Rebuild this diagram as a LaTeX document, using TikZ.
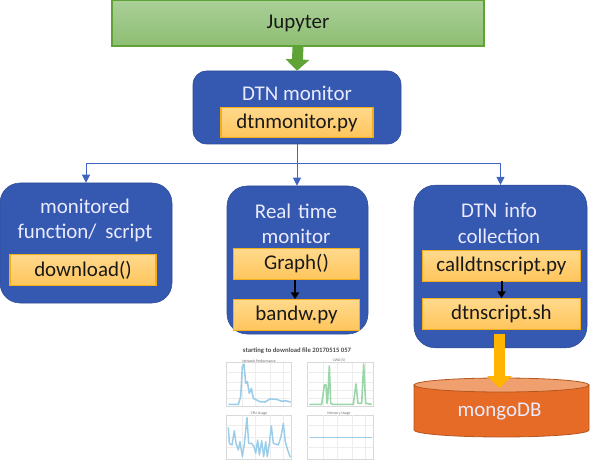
\documentclass[tikz,border=0pt]{standalone}
\usepackage{fontspec}
\setmainfont{Carlito}
\usetikzlibrary{arrows.meta}
\definecolor{blueb}{HTML}{3558B0}
\definecolor{blueline}{HTML}{3F65C0}
\definecolor{orgtop}{HTML}{FFD98C}
\definecolor{orgbot}{HTML}{FFC55C}
\definecolor{orgline}{HTML}{F5AE1A}
\definecolor{grtop}{HTML}{AACF98}
\definecolor{grbot}{HTML}{8DBE72}
\definecolor{grline}{HTML}{5FA336}
\definecolor{dbbody}{HTML}{E56B26}
\definecolor{dbtop}{HTML}{F0A06E}
\definecolor{dbline}{HTML}{B5561F}
\definecolor{plotb}{HTML}{9CCDE8}
\definecolor{plotg}{HTML}{9AD6A9}
\definecolor{arrowor}{HTML}{FFB400}
\tikzset{
  x=.75pt,y=-.75pt,
  panel/.style={draw=blueb!85!black,line width=.4pt,fill=blueb,inner sep=0pt},
  title/.style={text=white!92!blue,font=\fontsize{15.7}{19}\selectfont,align=center,inner sep=0pt},
  code/.style={draw=orgline,line width=.8pt,top color=orgtop,bottom color=orgbot,inner sep=0pt,
     font=\fontsize{15.7}{18}\selectfont,text=black!90},
  tree/.style={draw=blueline,line width=.75pt,-{Triangle[width=6pt,length=6pt]}},
  flow/.style={draw=black,line width=1.5pt,-{Triangle[width=6pt,length=5pt]}},
  axisbox/.style={draw=black!15,line width=.5pt},
  chartlabel/.style={font=\fontsize{2.8}{3}\selectfont,text=black!60,inner sep=0pt},
}
\begin{document}
\begin{tikzpicture}
\useasboundingbox (0,0) rectangle (590,467);
% Jupyter
\node[draw=grline,line width=.9pt,top color=grtop,bottom color=grbot,minimum width=279pt,minimum height=34.5pt,inner sep=0pt,
  font=\fontsize{15.7}{18}\selectfont,text=black!90] (jup) at (298,23) {Jupyter};
% DTN monitor
\node[panel,rounded corners=10pt,minimum width=156pt,minimum height=54.75pt] (mon) at (297,107.5) {};
\node[title] (montitle) at (297,93) {DTN monitor};
\node[code,minimum width=114pt,minimum height=23pt] (monpy) at (297,122.5) {dtnmonitor.py};
% left
\node[panel,rounded corners=15pt,minimum width=129pt,minimum height=90pt] (lft) at (86,243) {};
\node[title,text width=125pt] (lfttitle) at (85,220.5) {monitored\\function/\hspace{.42em}script};
\node[code,minimum width=109.5pt,minimum height=23pt] (dl) at (83,270) {download()};
% middle
\node[panel,rounded corners=15pt,minimum width=105.75pt,minimum height=111pt] (mid) at (297.5,260) {};
\node[title,text width=100pt] (midtitle) at (296,224) {Real time\\monitor};
\node[code,minimum width=95pt,minimum height=23pt] (graph) at (296.5,264) {Graph()};
\node[code,minimum width=95pt,minimum height=23pt] (bandw) at (296.5,315) {bandw.py};
% right
\node[panel,rounded corners=16pt,minimum width=129.75pt,minimum height=122pt] (rgt) at (500.5,266.5) {};
\node[title,text width=125pt] (rgttitle) at (499,223.5) {DTN info\\collection};
\node[code,minimum width=119pt,minimum height=23pt] (call) at (501.5,266) {calldtnscript.py};
\node[code,minimum width=119pt,minimum height=23pt] (shs) at (501.5,314) {dtnscript.sh};
% cylinder
\filldraw[draw=dbline,line width=.6pt,fill=dbbody] (414,385) -- (414,430) arc[x radius=87.5,y radius=7,start angle=180,end angle=0] -- (589,385) -- cycle;
\filldraw[draw=dbline,line width=.6pt,fill=dbtop] (501.5,385) ellipse[x radius=87.5,y radius=7];
\node[title] (mongo) at (499.5,412) {mongoDB};
\coordinate (dbin) at (499.5,388);
% connectors
\coordinate (bus) at (297,164);
\draw[draw=blueline,line width=.75pt] (mon.south) -- (bus);
\draw[tree] (bus) -| (lft.north);
\draw[tree] (bus) -| (rgt.north);
\draw[tree] (bus) -- (mid.north -| bus);
\draw[flow] (graph.south -| 295,0) -- (bandw.north -| 295,0);
\draw[flow] (call) ++(0,15) -- (shs.north);
% block arrows
\draw[draw=grline,line width=8.2pt,-{Triangle[width=17.5pt,length=8.5pt]}] (jup.south) -- (mon.north);
\draw[draw=arrowor,line width=8.2pt,-{Triangle[width=18pt,length=9pt]},shorten <=3pt] (shs.south -| dbin) -- (dbin);
% thumbnail chart
\node[font=\fontsize{5}{6}\selectfont\bfseries,text=black!70,inner sep=0pt] (charttitle) at (297,351) {starting to download file 20170515 057};
\begin{scope}[shift={(210,340)},x=.25pt,y=-.25pt]
  \draw[axisbox] (50,68) rectangle (245,198);
  \draw[axisbox] (292,68) rectangle (490,198);
  \draw[axisbox] (50,225) rectangle (245,358);
  \draw[axisbox] (292,225) rectangle (490,358);
  \foreach \xx in {95,135,180,220}{\draw[black!7,line width=.25pt] (\xx,68)--(\xx,198) (\xx,225)--(\xx,358);}
  \foreach \xx in {340,380,425,465}{\draw[black!7,line width=.25pt] (\xx,68)--(\xx,198) (\xx,225)--(\xx,358);}
  \foreach \yy in {95,125,150,175,255,290,320}{\draw[black!7,line width=.25pt] (50,\yy)--(245,\yy) (292,\yy)--(490,\yy);}
  \draw[plotb,line width=1.2pt,line join=round] (55,193)--(85,193)--(92,170)--(97,80)--(102,72)--(107,130)--(112,125)--(118,160)--(124,145)--(130,175)--(150,185)--(165,186)--(180,177)--(200,178)--(215,184)--(225,182)--(242,186);
  \draw[plotg,line width=1.2pt,line join=round] (298,193)--(335,193)--(343,135)--(348,135)--(351,190)--(353,180)--(358,78)--(362,190)--(368,193)--(430,193)--(438,132)--(444,190)--(455,190)--(461,72)--(467,190)--(485,193);
  \draw[plotb,line width=1.1pt,line join=round] (55,262)--(58,310)--(66,315)--(73,272)--(78,310)--(85,330)--(90,305)--(97,350)--(103,312)--(111,233)--(116,310)--(125,310)--(132,320)--(137,340)--(143,300)--(148,345)--(155,302)--(161,350)--(167,305)--(172,350)--(178,310)--(184,257)--(190,310)--(205,315)--(213,290)--(220,250)--(226,305)--(233,330)--(241,352);
  \draw[plotb,line width=1.2pt] (300,292)--(486,292);
  \node[chartlabel] (c1) at (147,63) {Network Performance};
  \node[chartlabel] (c2) at (387,60) {CWD (S)};
  \node[chartlabel] (c3) at (147,221) {CPU Usage};
  \node[chartlabel] (c4) at (387,220) {Memory Usage};
\end{scope}
\end{tikzpicture}
\end{document}
